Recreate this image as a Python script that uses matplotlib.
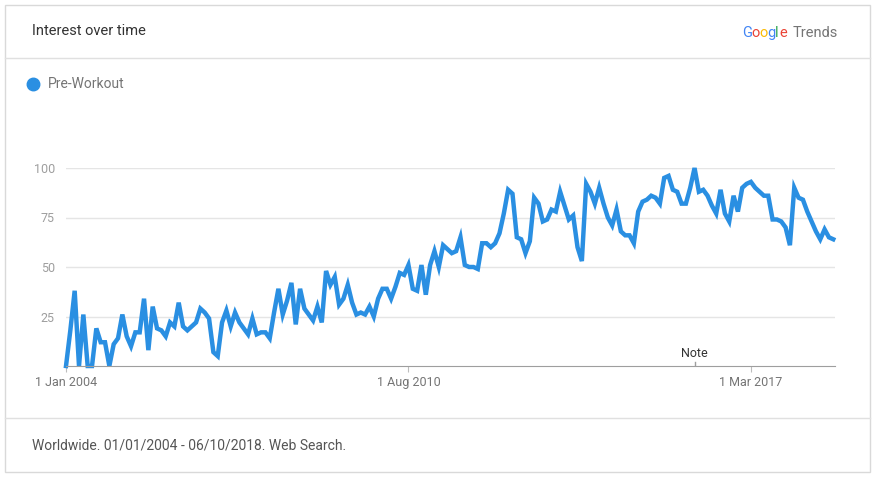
import matplotlib
matplotlib.use('Agg')
import matplotlib.pyplot as plt
from matplotlib.patches import Rectangle
from matplotlib.lines import Line2D

# monthly interest, Jan 2004 .. Oct 2018
values = [0, 18, 38, 0, 26, 0, 0, 19, 12, 12, 0, 11, 14, 26, 15, 10, 17, 17, 34, 8,
          30, 19, 18, 15, 22, 20, 32, 20, 18, 20, 22, 29, 27, 24, 7, 5, 22, 28, 20, 27,
          22, 19, 16, 24, 16, 17, 17, 14, 27, 39, 26, 33, 42, 21, 39, 29, 26, 23, 30, 22,
          48, 41, 45, 31, 34, 41, 32, 26, 27, 26, 30, 25, 34, 39, 39, 34, 40, 47, 46, 51,
          39, 38, 51, 36, 51, 58, 50, 61, 59, 57, 58, 65, 51, 50, 50, 49, 62, 62, 60, 62,
          67, 77, 89, 87, 65, 64, 57, 63, 85, 82, 73, 74, 79, 78, 88, 81, 74, 76, 60, 53,
          92, 88, 82, 90, 82, 75, 71, 79, 68, 66, 66, 62, 78, 83, 84, 86, 85, 82, 95, 96,
          89, 88, 82, 82, 90, 100, 88, 89, 86, 81, 77, 89, 77, 73, 86, 78, 90, 92, 93, 90,
          88, 86, 86, 74, 74, 73, 70, 61, 90, 85, 84, 78, 73, 68, 64, 69, 65, 64]
yticks = [25, 50, 75, 100]
xtick_idx = [0, 79, 158]
xtick_labels = ['1 Jan 2004', '1 Aug 2010', '1 Mar 2017']
note_idx = 145
series_name = 'Pre-Workout'

W, H = 877, 483
fig = plt.figure(figsize=(W / 100, H / 100), dpi=100)
fig.patch.set_facecolor('white')

def fx(px):
    return px / W

def fy(py):
    return 1 - py / H

# card
fig.patches.append(Rectangle((fx(5), fy(472)), fx(870) - fx(5), fy(5) - fy(472),
                             transform=fig.transFigure, fill=False, ec='#d9d9d9', lw=1))
fig.add_artist(Line2D([fx(5), fx(870)], [fy(58), fy(58)], color='#e0e0e0', lw=1))
fig.add_artist(Line2D([fx(5), fx(870)], [fy(418), fy(418)], color='#e0e0e0', lw=1))

grey = '#333333'
fig.text(fx(32), fy(31), 'Interest over time', fontsize=10.5, color=grey, va='center',
         family='Roboto')
goog = [('G', '#4285f4'), ('o', '#ea4335'), ('o', '#fbbc05'), ('g', '#4285f4'),
        ('l', '#34a853'), ('e', '#ea4335')]
xs = [742, 751, 759, 767, 775, 779]
for (ch, c), x in zip(goog, xs):
    fig.text(fx(x), fy(33), ch, fontsize=10.5, color=c, va='center', family='Roboto')
fig.text(fx(793), fy(33), 'Trends', fontsize=10.5, color='#757575', va='center', family='Roboto')

fig.add_artist(Line2D([fx(33)], [fy(84)], marker='o', markersize=9, color='#2a8fe2', lw=0))
fig.text(fx(48), fy(84), series_name, fontsize=10, color='#757575', va='center', family='Roboto')
fig.text(fx(32), fy(446), 'Worldwide. 01/01/2004 - 06/10/2018. Web Search.', fontsize=10,
         color='#555555', va='center', family='Roboto')

ax = fig.add_axes([fx(66), fy(366), fx(835) - fx(66), fy(168) - fy(366)])
ax.plot(range(len(values)), values, color='#2a8fe2', lw=3.2, solid_joinstyle='miter',
        clip_on=False)
ax.set_xlim(0, len(values) - 1 + 0.4)
ax.set_ylim(0, 100)
for s in ['top', 'right', 'left']:
    ax.spines[s].set_visible(False)
ax.spines['bottom'].set_color('#9e9e9e')
ax.set_yticks(yticks)
ax.set_yticklabels([str(v) for v in yticks], color='#9e9e9e', fontsize=9, family='Roboto')
ax.tick_params(axis='y', length=0, pad=8)
ax.yaxis.grid(True, color='#e5e5e5', lw=1)
ax.set_axisbelow(True)
ax.set_xticks(xtick_idx)
ax.set_xticklabels(xtick_labels, color='#757575', fontsize=9, family='Roboto')
ax.tick_params(axis='x', length=4, color='#bdbdbd', pad=3)
ax.axvline(note_idx, ymin=0, ymax=0.02, color='#9e9e9e', lw=1)
ax.text(note_idx, 3, 'Note', ha='center', va='bottom', fontsize=9, color='#333333',
        family='Roboto')

fig.savefig('out.png', dpi=100)
